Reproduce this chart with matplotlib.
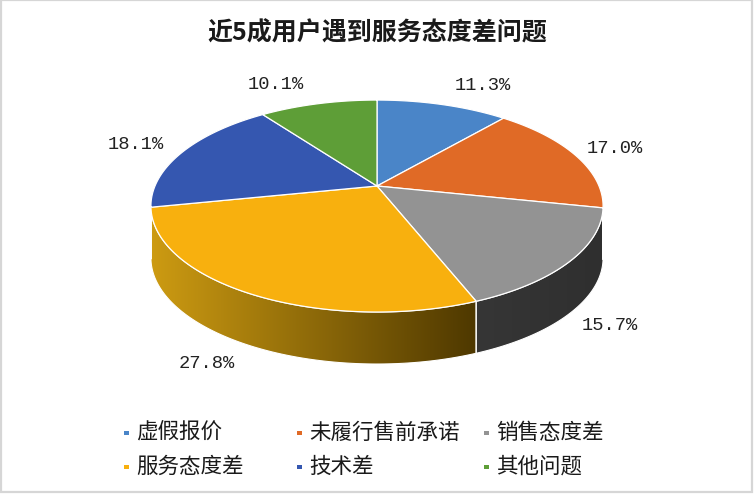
import numpy as np
import matplotlib

matplotlib.use("Agg")
import matplotlib.pyplot as plt
from matplotlib.patches import Polygon, Rectangle
from matplotlib.colors import LinearSegmentedColormap

plt.rcParams["font.family"] = ["Noto Sans CJK SC", "DejaVu Sans"]

title = "近5成用户遇到服务态度差问题"
categories = ["虚假报价", "未履行售前承诺", "销售态度差", "服务态度差", "技术差", "其他问题"]
shares = [11.3, 17.0, 15.7, 27.8, 18.1, 10.1]
top_colors = ["#4A85C8", "#E06A26", "#939393", "#F8B00E", "#3557B0", "#5E9E37"]
side_colors = [("#2E5A8A", "#2E5A8A"), ("#8A3F12", "#8A3F12"), ("#363636", "#2F2F2F"),
               ("#CD9B12", "#4E3800"), ("#23397A", "#23397A"), ("#3C6A22", "#3C6A22")]

W, H = 754, 494
# projected pie geometry (pixels, y down)
cx, cy = 377, 186          # apex (projected centre of top face)
a, b, k = 222, 102.2, 0.189  # half-axes and perspective factor
depth = 52                 # thickness of the pie


def proj(theta, r=1.0, dz=0.0):
    u = r * np.sin(theta)
    v = r * np.cos(theta)
    d = 1 + k * v
    return cx + a * u / d, cy - b * v / d + dz


fig = plt.figure(figsize=(W / 100, H / 100), dpi=100)
ax = fig.add_axes([0, 0, 1, 1])
ax.set_xlim(0, W)
ax.set_ylim(H, 0)
ax.axis("off")

ax.add_patch(Rectangle((0.5, 0.5), W - 2.5, H - 2.5, fill=False, ec="#D6D6D6", lw=1.6,
                       zorder=0))

fracs = np.array(shares) / sum(shares)
edges = np.concatenate([[0], np.cumsum(fracs)]) * 2 * np.pi
front_lo = np.arccos(-k)
front_hi = 2 * np.pi - front_lo

# side walls of the front half
for i in range(len(shares)):
    t0, t1 = max(edges[i], front_lo), min(edges[i + 1], front_hi)
    if t1 <= t0:
        continue
    tt = np.linspace(t0, t1, 120)
    xt, yt = proj(tt)
    xb, yb = proj(tt[::-1], dz=depth)
    pts = np.column_stack([np.r_[xt, xb], np.r_[yt, yb]])
    poly = Polygon(pts, closed=True, fc="none", ec="white", lw=0.8, zorder=2)
    ax.add_patch(poly)
    c0, c1 = side_colors[i]
    cmap = LinearSegmentedColormap.from_list("side%d" % i, [c0, c1])
    x0, x1 = pts[:, 0].min(), pts[:, 0].max()
    y0, y1 = pts[:, 1].min(), pts[:, 1].max()
    grad = np.linspace(0, 1, 256)[None, :]
    im = ax.imshow(grad, cmap=cmap, extent=(x0, x1, y1, y0), aspect="auto",
                   interpolation="bilinear", zorder=1.5)
    im.set_clip_path(poly)

# top faces
for i in range(len(shares)):
    tt = np.linspace(edges[i], edges[i + 1], 150)
    xs, ys = proj(tt)
    pts = np.column_stack([np.r_[cx, xs], np.r_[cy, ys]])
    ax.add_patch(Polygon(pts, closed=True, fc=top_colors[i], ec="white", lw=0.9,
                         zorder=3))

# data labels
for i, s in enumerate(shares):
    mid = 0.5 * (edges[i] + edges[i + 1])
    ex, ey = proj(mid)
    u, v = np.sin(mid), np.cos(mid)
    lx = ex + (40 + 8 * abs(u) * (u < 0)) * np.sign(u)
    ly = ey - 20 * v + (depth if v < 0 else 0)
    ax.text(lx, ly, f"{s:.1f}%", ha="center", va="center", fontsize=13.5,
            family="Liberation Mono", color="#222222", zorder=4)

ax.text(W / 2, 33, title, ha="center", va="center", fontsize=18, fontweight="bold",
        color="#1A1A1A")

# legend
col_x = [124, 297, 484]
row_y = [433, 467]
for i, name in enumerate(categories):
    x, y = col_x[i % 3], row_y[i // 3]
    ax.add_patch(Rectangle((x, y - 2), 5, 4, fc=top_colors[i], ec="none"))
    ax.text(x + 12, y, name, ha="left", va="center", fontsize=15.5, color="#1A1A1A")

fig.savefig("out.png", dpi=100)
